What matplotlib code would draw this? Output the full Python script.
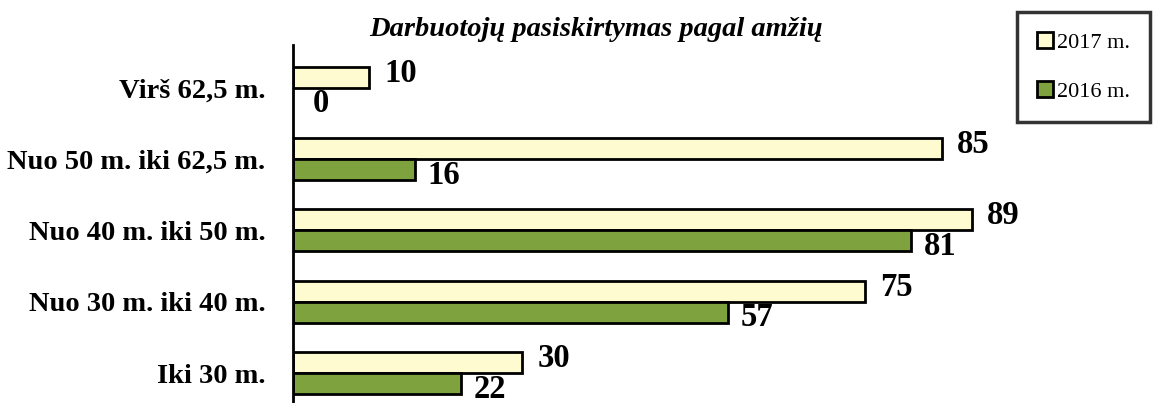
import matplotlib.pyplot as plt
import numpy as np

categories = ["Iki 30 m.", "Nuo 30 m. iki 40 m.", "Nuo 40 m. iki 50 m.",
              "Nuo 50 m. iki 62,5 m.", "Virš 62,5 m."]
values_2017 = [30, 75, 89, 85, 10]
values_2016 = [22, 57, 81, 16, 0]

plt.rcParams["font.family"] = ["Liberation Serif", "DejaVu Serif"]

fig = plt.figure(figsize=(11.61, 4.03), dpi=100)
ax = fig.add_axes([293 / 1161, 0, 1 - 293 / 1161, 1 - 45 / 403])

y = np.arange(len(categories))
h = 0.295
c17 = "#fdfbcf"
c16 = "#7ea33e"

b17 = ax.barh(y + h / 2, values_2017, height=h, color=c17, edgecolor="black",
              linewidth=2, label="2017 m.")
b16 = ax.barh(y - h / 2, values_2016, height=h, color=c16, edgecolor="black",
              linewidth=2, label="2016 m.")
# 2016 zero bar is not drawn in the reference
for bar, v in zip(b16, values_2016):
    if v == 0:
        bar.set_visible(False)

for yi, v in zip(y, values_2017):
    ax.annotate(str(v), (v, yi + h / 2), xytext=(11, 3), textcoords="offset points",
                ha="left", va="center", fontsize=23.5, fontweight="bold")
for yi, v in zip(y, values_2016):
    ax.annotate(str(v), (v, yi - h / 2), xytext=(9 if v else 14, -4),
                textcoords="offset points", ha="left", va="center",
                fontsize=23.5, fontweight="bold")

ax.set_xlim(0, (1161 - 293) / 7.63)
ax.set_ylim(-0.42, 4.6)
ax.set_yticks(y)
ax.set_yticklabels(categories, fontsize=20.5, fontweight="bold")
ax.tick_params(axis="y", length=0, pad=20)
ax.set_xticks([])
for s in ["top", "right", "bottom"]:
    ax.spines[s].set_visible(False)
ax.spines["left"].set_linewidth(2)

fig.text(596 / 1161, 1 - 30 / 403, "Darbuotojų pasiskirtymas pagal amžių",
         ha="center", va="center", fontsize=20.5, fontweight="bold", style="italic")

leg = fig.legend(handles=[b17, b16], loc="upper left",
                 bbox_to_anchor=(1017 / 1161, 1 - 12 / 403), fontsize=16,
                 frameon=True, fancybox=False, borderpad=0.9, labelspacing=1.3,
                 handlelength=0.7, handleheight=0.7, handletextpad=0.2,
                 borderaxespad=0)
leg.get_frame().set_edgecolor("black")
leg.get_frame().set_linewidth(2.5)

fig.savefig("out.png", dpi=100)
